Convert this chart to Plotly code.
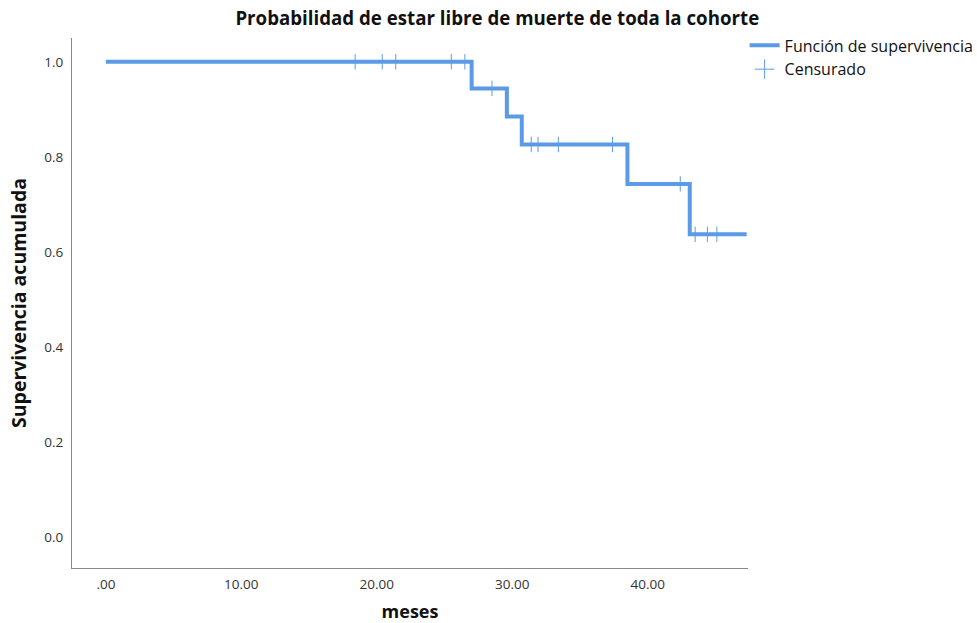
import plotly.graph_objects as go

# Kaplan-Meier step function (time of each step, survival after step)
step_times = [0.0, 27.0, 29.6, 30.7, 38.5, 43.1, 47.3]
step_surv = [1.0, 0.944, 0.885, 0.826, 0.743, 0.637, 0.637]

# Censored observations
cens_times = [18.4, 20.4, 21.4, 25.5, 26.5, 28.5, 31.4, 31.9, 33.4, 37.4, 42.4, 43.5, 44.4, 45.1]
cens_surv = [1.0, 1.0, 1.0, 1.0, 1.0, 0.944, 0.826, 0.826, 0.826, 0.826, 0.743, 0.637, 0.637, 0.637]

x_tickvals = [0, 10, 20, 30, 40]
x_ticktext = [".00", "10.00", "20.00", "30.00", "40.00"]
y_tickvals = [0.0, 0.2, 0.4, 0.6, 0.8, 1.0]

BLUE = "#5b9be6"
FONT = "Open Sans"

fig = go.Figure()
fig.add_trace(go.Scatter(
    x=step_times, y=step_surv, mode="lines", line=dict(color=BLUE, width=4, shape="hv"),
    name="Función de supervivencia", hoverinfo="skip"))
fig.add_trace(go.Scatter(
    x=cens_times, y=cens_surv, mode="markers",
    marker=dict(symbol="line-ns-open", size=11, color=BLUE, line=dict(color=BLUE, width=1)),
    name="Censurado", showlegend=False))
fig.add_trace(go.Scatter(
    x=[None], y=[None], mode="markers",
    marker=dict(symbol="cross-thin-open", size=14, color=BLUE, line=dict(color=BLUE, width=1)),
    name="Censurado"))

fig.update_layout(
    width=977, height=623,
    margin=dict(l=72, r=229, t=38, b=55, autoexpand=False),
    paper_bgcolor="white", plot_bgcolor="white",
    title=dict(text="<b>Probabilidad de estar libre de muerte de toda la cohorte</b>",
               x=0.509, xref="container", xanchor="center", y=0.97, yanchor="middle",
               font=dict(family=FONT, size=18.7, color="#111")),
    font=dict(family=FONT, color="#333"),
    showlegend=True,
    legend=dict(x=0.995, xanchor="left", y=1.018, yanchor="top", bgcolor="rgba(0,0,0,0)",
                font=dict(family=FONT, size=16, color="#111"), tracegroupgap=0,
                itemwidth=30),
    xaxis=dict(range=[-2.5, 47.4], tickvals=x_tickvals, ticktext=x_ticktext,
               showgrid=False, zeroline=False, showline=True, linecolor="#888", linewidth=1,
               ticks="outside", ticklen=4, tickcolor="rgba(0,0,0,0)", automargin=False,
               tickfont=dict(size=13.5, color="#333"),
               title=dict(text="<b>meses</b>", font=dict(size=18, color="#111"), standoff=19)),
    yaxis=dict(range=[-0.065, 1.05], tickvals=y_tickvals, tickformat=".1f",
               showgrid=False, zeroline=False, showline=True, linecolor="#888", linewidth=1,
               ticks="outside", ticklen=5, tickcolor="rgba(0,0,0,0)", automargin=False,
               tickfont=dict(size=13.5, color="#333"),
               title=dict(text="<b>Supervivencia acumulada</b>", font=dict(size=19.5, color="#111"), standoff=12)),
)

fig.write_html("out.html", config={"displayModeBar": False},
               post_script="document.body.style.margin='0';document.body.style.overflow='hidden';")
